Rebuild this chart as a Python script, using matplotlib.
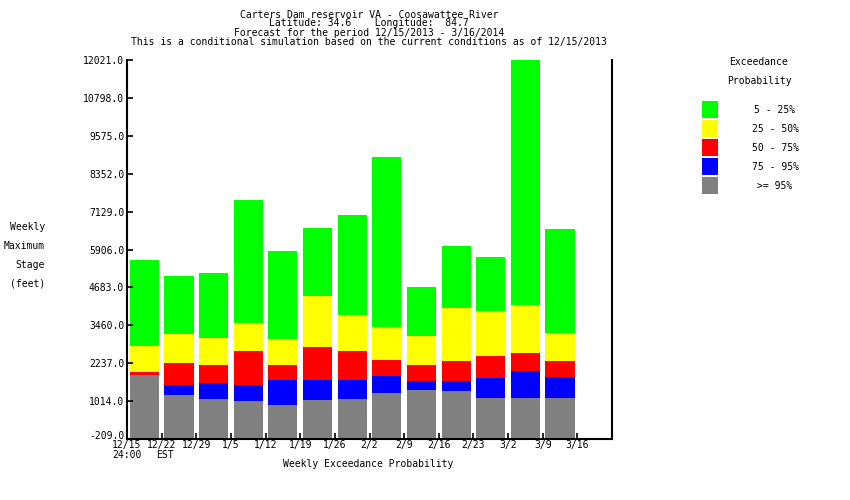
import matplotlib
matplotlib.use("Agg")
import matplotlib.pyplot as plt
import matplotlib.transforms as mtransforms
import numpy as np

plt.rcParams['font.family'] = ['DejaVu Sans Mono']

weeks = ["12/15", "12/22", "12/29", "1/5", "1/12", "1/19", "1/26",
         "2/2", "2/9", "2/16", "2/23", "3/2", "3/9", "3/16"]
# Top of each exceedance band (feet)
p95 = [1862, 1218, 1089, 1025, 896, 1057, 1089, 1282, 1379, 1347, 1121, 1121, 1121]   # >= 95%
p75 = [1862, 1540, 1604, 1540, 1701, 1701, 1701, 1829, 1668, 1668, 1765, 1990, 1797]  # 75-95%
p50 = [1958, 2248, 2183, 2634, 2183, 2763, 2634, 2344, 2183, 2312, 2473, 2570, 2312]  # 50-75%
p25 = [2795, 3181, 3052, 3535, 3020, 4404, 3793, 3406, 3117, 4018, 3921, 4114, 3213]  # 25-50%
p05 = [5563, 5048, 5144, 7494, 5852, 6593, 7011, 8878, 4694, 6013, 5659, 12021, 6560]  # 5-25%

ymin, ymax = -209.0, 12021.0
yticks = [-209.0, 1014.0, 2237.0, 3460.0, 4683.0, 5906.0, 7129.0,
          8352.0, 9575.0, 10798.0, 12021.0]

band_labels = ["5 - 25%", "25 - 50%", "50 - 75%", "75 - 95%", ">= 95%"]
band_colors = ["#00ff00", "#ffff00", "#ff0000", "#0000ff", "#808080"]

W, H = 850, 500
fig = plt.figure(figsize=(8.5, 5), dpi=100)
ax = fig.add_axes([127 / W, 1 - 439 / H, (612 - 127) / W, (439 - 60) / H])

n = len(p05)
x = np.arange(n) + 0.5
bw = 0.84
tops = [p95, p75, p50, p25, p05]
cols = band_colors[::-1]
prev = np.full(n, ymin)
for t, c in zip(tops, cols):
    t = np.array(t, dtype=float)
    ax.bar(x, t - prev, bottom=prev, width=bw, color=c, edgecolor='none', linewidth=0)
    prev = t

ax.set_xlim(0, 14)
ax.set_ylim(ymin, ymax)
ax.set_yticks(yticks)
ax.set_yticklabels([f"{v:.1f}" for v in yticks])
ax.set_xticks(np.arange(len(weeks)))
ax.set_xticklabels(weeks)
ax.tick_params(axis='both', direction='in', length=4, width=1.2, labelsize=7, pad=2, colors='black')
ax.tick_params(axis='x', pad=0.5)
for s in ['left', 'right', 'bottom']:
    ax.spines[s].set_linewidth(1.5)
ax.spines['top'].set_visible(False)

# raise the bottom y tick label a little, as in the reference
lab0 = ax.get_yticklabels()[0]
lab0.set_transform(lab0.get_transform() + mtransforms.ScaledTranslation(0, 4 / 100, fig.dpi_scale_trans))

fs = 7
def ftext(px, py, s, ha='center'):
    fig.text(px / W, 1 - py / H, s, ha=ha, va='center', fontsize=fs)

# Titles
ftext(369, 14.5, "Carters Dam reservoir VA - Coosawattee River")
ftext(369, 23.5, "Latitude: 34.6    Longitude:  84.7")
ftext(369, 32.5, "Forecast for the period 12/15/2013 - 3/16/2014")
ftext(369, 41.5, "This is a conditional simulation based on the current conditions as of 12/15/2013")

# Y label
for s, py in zip(["Weekly", "Maximum", "Stage", "(feet)"], [227, 246, 265, 284]):
    ftext(45, py, s, ha='right')

ftext(112, 455.5, "24:00", ha='left')
ftext(156, 455.5, "EST", ha='left')
ftext(368, 464, "Weekly Exceedance Probability")

# Legend
ftext(759, 62, "Exceedance")
ftext(759, 81, "Probability")
for i, (lab, c) in enumerate(zip(band_labels, band_colors)):
    y0 = 101 + i * 19
    fig.patches.append(plt.Rectangle((702 / W, 1 - (y0 + 16.5) / H), 16 / W, 16.5 / H,
                                     transform=fig.transFigure, facecolor=c,
                                     edgecolor='none', figure=fig))
    ftext(775, y0 + 9, lab)

fig.savefig("out.png", dpi=100)
